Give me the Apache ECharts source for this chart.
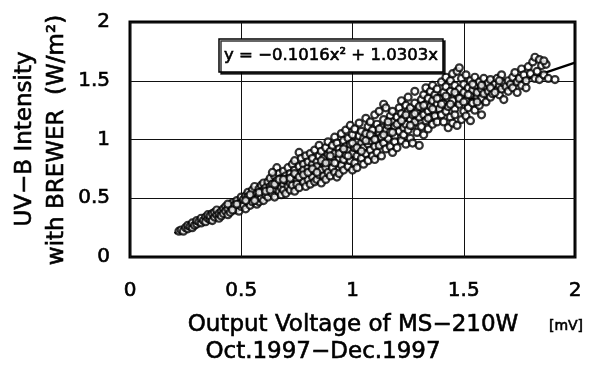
<!DOCTYPE html>
<html>
<head>
<meta charset="utf-8">
<script src="https://cdn.jsdelivr.net/npm/echarts@6/dist/echarts.min.js"></script>
<style>
  html, body { margin: 0; padding: 0; background: #fff; }
  #chart { width: 598px; height: 374px; }
</style>
</head>
<body>
<div id="chart"></div>
<script>
// Axis ticks
const xTicks = [0, 0.5, 1, 1.5, 2];
const yTicks = [0, 0.5, 1, 1.5, 2];

// Quadratic fit through origin: y = a*x^2 + b*x
const fitA = -0.1016;
const fitB = 1.0303;
const fitX = [0.2, 0.3, 0.4, 0.5, 0.6, 0.7, 0.8, 0.9, 1.0, 1.1, 1.2, 1.3, 1.4, 1.5, 1.6, 1.7, 1.8, 1.9, 2.0];

// Observations [MS-210W output mV, Brewer UV-B W/m2], grouped by voltage
const obsBelow04 = [
  [0.22,0.22],[0.23,0.23],[0.24,0.22],[0.25,0.25],[0.26,0.24],[0.26,0.27],[0.27,0.26],[0.28,0.25],[0.28,0.29],[0.29,0.27],[0.30,0.28],[0.30,0.31],
  [0.31,0.30],[0.32,0.29],[0.32,0.33],[0.33,0.31],[0.34,0.34],[0.34,0.30],[0.35,0.33],[0.35,0.36],[0.36,0.32],[0.36,0.35],[0.37,0.37],[0.37,0.31],[0.38,0.34],[0.38,0.38],[0.39,0.36],[0.39,0.40],[0.40,0.33],[0.40,0.37]
];
const obs04to06 = [
  [0.41,0.39],[0.41,0.35],[0.42,0.41],[0.42,0.37],[0.43,0.43],[0.43,0.39],[0.44,0.36],[0.44,0.41],[0.45,0.44],[0.45,0.38],[0.46,0.42],[0.46,0.46],[0.47,0.40],[0.47,0.44],[0.48,0.48],[0.48,0.42],[0.49,0.45],[0.49,0.39],[0.50,0.47],[0.50,0.51],[0.50,0.43],[0.44,0.45],
  [0.51,0.44],[0.51,0.49],[0.52,0.52],[0.52,0.41],[0.53,0.47],[0.53,0.55],[0.54,0.50],[0.54,0.44],[0.55,0.53],[0.55,0.57],[0.55,0.47],[0.56,0.51],[0.56,0.60],[0.57,0.45],[0.57,0.54],[0.57,0.49],[0.58,0.58],[0.58,0.47],[0.58,0.52],[0.59,0.61],[0.59,0.55],[0.59,0.50],[0.60,0.48],[0.60,0.57],[0.60,0.63],[0.53,0.51]
];
const obs06to08 = [
  [0.61,0.53],[0.61,0.59],[0.62,0.51],[0.62,0.64],[0.62,0.56],[0.63,0.60],[0.63,0.67],[0.64,0.54],[0.64,0.62],[0.65,0.58],[0.65,0.69],[0.65,0.51],[0.66,0.65],[0.66,0.61],[0.66,0.76],[0.67,0.56],[0.67,0.71],[0.67,0.63],[0.68,0.59],[0.68,0.67],[0.68,0.53],[0.69,0.73],[0.69,0.62],[0.69,0.57],[0.70,0.69],[0.70,0.65],[0.70,0.54],[0.64,0.72],
  [0.71,0.60],[0.71,0.76],[0.71,0.67],[0.72,0.71],[0.72,0.57],[0.72,0.63],[0.73,0.79],[0.73,0.68],[0.73,0.61],[0.74,0.74],[0.74,0.56],[0.74,0.82],[0.75,0.66],[0.75,0.70],[0.75,0.62],[0.76,0.89],[0.76,0.77],[0.76,0.59],[0.77,0.72],[0.77,0.67],[0.77,0.84],[0.78,0.64],[0.78,0.79],[0.78,0.74],[0.79,0.60],[0.79,0.70],[0.79,0.86],[0.80,0.76],[0.80,0.66],[0.80,0.81]
];
const obs08to10 = [
  [0.81,0.62],[0.81,0.72],[0.81,0.88],[0.82,0.79],[0.82,0.68],[0.82,0.84],[0.83,0.74],[0.83,0.64],[0.83,0.91],[0.84,0.66],[0.84,0.81],[0.84,0.77],[0.85,0.95],[0.85,0.70],[0.85,0.86],[0.86,0.74],[0.86,0.63],[0.86,0.90],[0.87,0.80],[0.87,0.69],[0.87,0.84],[0.88,0.93],[0.88,0.76],[0.88,0.66],[0.89,0.87],[0.89,0.72],[0.89,0.98],[0.90,0.81],[0.90,0.69],[0.90,0.90],
  [0.91,0.76],[0.91,0.95],[0.91,0.85],[0.92,1.02],[0.92,0.72],[0.92,0.88],[0.93,0.80],[0.93,0.97],[0.93,0.68],[0.94,0.92],[0.94,0.71],[0.94,0.84],[0.95,1.05],[0.95,0.78],[0.95,0.89],[0.96,0.99],[0.96,0.74],[0.96,0.83],[0.97,0.94],[0.97,1.08],[0.97,0.87],[0.98,0.77],[0.98,0.91],[0.98,1.01],[0.99,1.12],[0.99,0.82],[0.99,0.96],[1.00,0.88],[1.00,0.74],[1.00,1.04]
];
const obs10to12 = [
  [1.01,0.93],[1.01,0.80],[1.01,1.09],[1.02,0.98],[1.02,0.86],[1.02,0.76],[1.03,1.03],[1.03,0.91],[1.03,1.14],[1.04,0.84],[1.04,0.97],[1.04,1.07],[1.05,0.79],[1.05,0.93],[1.05,1.01],[1.06,1.18],[1.06,0.88],[1.06,1.05],[1.07,0.96],[1.07,0.82],[1.07,1.11],[1.08,0.99],[1.08,0.91],[1.08,1.15],[1.09,0.86],[1.09,1.03],[1.09,1.08],[1.10,0.94],[1.10,1.21],[1.10,0.83],
  [1.11,1.00],[1.11,1.13],[1.11,0.89],[1.12,1.06],[1.12,0.95],[1.12,1.24],[1.13,1.10],[1.13,0.86],[1.13,1.02],[1.14,1.30],[1.14,1.17],[1.14,0.97],[1.15,1.08],[1.15,0.92],[1.15,1.27],[1.16,1.12],[1.16,1.01],[1.17,1.20],[1.17,0.94],[1.17,1.06],[1.18,0.89],[1.18,1.15],[1.18,1.24],[1.19,1.03],[1.19,0.98],[1.19,1.11],[1.20,1.19],[1.20,0.93]
];
const obs12to14 = [
  [1.21,1.27],[1.21,1.07],[1.21,1.14],[1.22,0.99],[1.22,1.22],[1.22,1.33],[1.23,1.10],[1.23,1.04],[1.23,1.18],[1.24,1.29],[1.24,0.96],[1.24,1.13],[1.25,1.24],[1.25,1.08],[1.25,1.36],[1.26,1.17],[1.26,1.01],[1.26,1.27],[1.27,1.12],[1.27,1.21],[1.27,0.97],[1.28,1.41],[1.28,1.15],[1.28,1.31],[1.29,1.06],[1.29,1.24],[1.30,0.95],[1.30,1.19],
  [1.31,1.34],[1.31,1.11],[1.31,1.27],[1.32,1.21],[1.32,1.04],[1.32,1.38],[1.33,1.16],[1.33,1.30],[1.33,1.44],[1.34,1.24],[1.34,1.09],[1.34,1.35],[1.35,1.19],[1.35,1.41],[1.35,1.28],[1.36,1.13],[1.36,1.33],[1.36,1.46],[1.37,1.25],[1.37,1.20],[1.37,1.38],[1.38,1.30],[1.38,1.43],[1.38,1.15],[1.39,1.35],[1.39,1.26],[1.40,1.49],[1.40,1.21]
];
const obs14to16 = [
  [1.41,1.31],[1.41,1.40],[1.41,1.15],[1.42,1.45],[1.42,1.24],[1.42,1.53],[1.43,1.10],[1.43,1.35],[1.43,1.28],[1.44,1.50],[1.44,1.19],[1.44,1.41],[1.45,1.14],[1.45,1.33],[1.45,1.56],[1.46,1.26],[1.46,1.46],[1.46,1.21],[1.47,1.38],[1.47,1.58],[1.47,1.12],[1.48,1.30],[1.48,1.61],[1.48,1.43],[1.49,1.17],[1.49,1.36],[1.49,1.52],[1.50,1.24],[1.50,1.40],[1.50,1.47],
  [1.51,1.33],[1.51,1.55],[1.51,1.20],[1.52,1.44],[1.52,1.27],[1.53,1.50],[1.53,1.38],[1.53,1.16],[1.54,1.42],[1.54,1.31],[1.55,1.53],[1.55,1.25],[1.55,1.46],[1.56,1.36],[1.56,1.40],[1.57,1.29],[1.57,1.49],[1.58,1.21],[1.58,1.43],[1.58,1.35],[1.59,1.52],[1.59,1.39],[1.60,1.32],[1.60,1.45]
];
const obsAbove16 = [
  [1.61,1.41],[1.61,1.48],[1.62,1.36],[1.62,1.51],[1.63,1.44],[1.63,1.39],[1.64,1.47],[1.65,1.42],[1.65,1.52],[1.66,1.38],[1.66,1.46],[1.67,1.43],[1.67,1.55],[1.68,1.48],[1.68,1.34],[1.69,1.45],[1.70,1.50],[1.70,1.41],
  [1.71,1.47],[1.72,1.53],[1.72,1.44],[1.73,1.57],[1.74,1.49],[1.74,1.40],[1.75,1.52],[1.76,1.60],[1.76,1.46],[1.77,1.55],[1.78,1.50],[1.78,1.44],[1.79,1.62],[1.80,1.56],
  [1.81,1.66],[1.82,1.52],[1.82,1.70],[1.83,1.58],[1.84,1.68],[1.84,1.51],[1.85,1.63],[1.86,1.55],[1.87,1.64],[1.88,1.52],[1.91,1.51],[1.86,1.67]
];
const obsMidBand = [
  [0.46,0.40],[0.48,0.45],[0.52,0.48],[0.54,0.53],[0.56,0.48],[0.58,0.55],[0.61,0.56],[0.63,0.57],[0.65,0.62],[0.67,0.66],[0.69,0.66],[0.72,0.67],[0.74,0.71],[0.76,0.68],[0.78,0.70],[0.80,0.72],
  [0.82,0.75],[0.84,0.72],[0.86,0.82],[0.88,0.80],[0.90,0.86],[0.92,0.80],[0.94,0.88],[0.96,0.92],[0.98,0.86],[1.00,0.97],[1.02,0.93],[1.04,0.90],[1.06,0.99],[1.08,1.04],[1.10,1.00],[1.12,1.09],
  [1.14,1.04],[1.16,1.15],[1.18,1.06],[1.20,1.13],[1.22,1.16],[1.24,1.21],[1.26,1.12],[1.28,1.22],[1.30,1.28],[1.32,1.29],[1.34,1.18],[1.36,1.26],[1.38,1.35],[1.40,1.30],[1.42,1.37],[1.44,1.30],
  [1.46,1.40],[1.48,1.35],[1.50,1.32],[1.52,1.38],[1.54,1.47],[1.56,1.32],[1.58,1.46],[1.62,1.44],[1.64,1.40],[1.66,1.50]
];

const observations = [].concat(obsBelow04, obs04to06, obs06to08, obs08to10, obs10to12, obs12to14, obs14to16, obsAbove16, obsMidBand);
const fitLine = fitX.map(x => [x, fitA * x * x + fitB * x]);

const FONT = '"DejaVu Sans", "Liberation Sans", sans-serif';
const chart = echarts.init(document.getElementById('chart'), null, { renderer: 'canvas' });

// slightly heavier glyphs for all printed text
const heavy = { textBorderColor: '#000', textBorderWidth: 0.6 };

const axisCommon = {
  type: 'value',
  min: 0,
  max: 2,
  interval: 0.5,
  axisLine: { show: false },
  axisTick: { show: false },
  splitLine: { show: true, lineStyle: { color: '#111', width: 1 } },
  axisLabel: Object.assign({
    color: '#000',
    fontFamily: FONT,
    fontSize: 20,
    formatter: v => String(v)
  }, heavy)
};

function titleText(x, y, text, size, extra) {
  return Object.assign({
    type: 'text',
    x: x, y: y,
    style: Object.assign({
      text: text,
      font: size + 'px ' + FONT,
      fill: '#000',
      stroke: '#000',
      lineWidth: 0.6,
      align: 'center',
      verticalAlign: 'middle'
    })
  }, extra || {});
}

chart.setOption({
  animation: false,
  backgroundColor: '#fff',
  grid: {
    left: 130, right: 23, top: 22, bottom: 117,
    show: true,
    borderColor: '#000',
    borderWidth: 3,
    backgroundColor: 'transparent'
  },
  xAxis: Object.assign({}, axisCommon, {
    axisLabel: Object.assign({}, axisCommon.axisLabel, { margin: 24 }),
    data: xTicks
  }),
  yAxis: Object.assign({}, axisCommon, {
    axisLabel: Object.assign({}, axisCommon.axisLabel, { margin: 20 }),
    data: yTicks
  }),
  series: [
    {
      type: 'line',
      data: fitLine,
      showSymbol: false,
      smooth: true,
      lineStyle: { color: '#000', width: 2.5 },
      z: 1
    },
    {
      type: 'scatter',
      data: observations,
      symbol: 'circle',
      symbolSize: 7,
      itemStyle: { color: '#fff', borderColor: '#000', borderWidth: 2.2 },
      z: 2
    }
  ],
  graphic: [
    // fit equation box
    {
      type: 'rect',
      shape: { x: 219, y: 39, width: 224, height: 33 },
      style: {
        fill: '#fff', stroke: '#000', lineWidth: 1.5,
        shadowColor: 'rgba(0,0,0,0.8)', shadowOffsetX: 2, shadowOffsetY: 2, shadowBlur: 0
      },
      z: 10
    },
    titleText(331, 56, 'y = \u22120.1016x\u00b2 + 1.0303x', 16.5, { z: 11 }),
    // y-axis title, two lines
    titleText(25, 139, 'UV\u2212B Intensity', 23, { rotation: Math.PI / 2 }),
    titleText(57, 140, 'with BREWER  (W/m\u00b2)', 23, { rotation: Math.PI / 2 }),
    // x-axis title, unit and period
    titleText(353, 325, 'Output Voltage of MS\u2212210W', 23),
    titleText(566, 326, '[mV]', 14),
    titleText(323, 352, 'Oct.1997\u2212Dec.1997', 23)
  ]
});
</script>
</body>
</html>
